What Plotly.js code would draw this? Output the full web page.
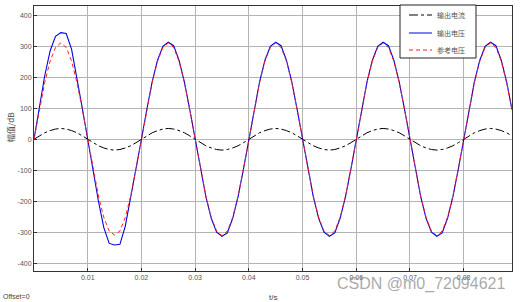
<!DOCTYPE html>
<html><head><meta charset="utf-8">
<script src="https://cdn.plot.ly/plotly-3.0.1.min.js"></script>
<style>html,body{margin:0;padding:0;background:#fff}#c{width:522px;height:302px}</style>
</head><body><div id="c"></div>
<script>
var t = [0,0.001,0.002,0.003,0.004,0.005,0.006,0.007,0.008,0.009,
0.010,0.011,0.012,0.013,0.014,0.015,0.016,0.017,0.018,0.019,
0.020,0.021,0.022,0.023,0.024,0.025,0.026,0.027,0.028,0.029,
0.030,0.031,0.032,0.033,0.034,0.035,0.036,0.037,0.038,0.039,
0.040,0.041,0.042,0.043,0.044,0.045,0.046,0.047,0.048,0.049,
0.050,0.051,0.052,0.053,0.054,0.055,0.056,0.057,0.058,0.059,
0.060,0.061,0.062,0.063,0.064,0.065,0.066,0.067,0.068,0.069,
0.070,0.071,0.072,0.073,0.074,0.075,0.076,0.077,0.078,0.079,
0.080,0.081,0.082,0.083,0.084,0.085,0.086,0.087,0.088,0.089];
var outCurrent = [0,11,21,28,33,35,33,28,21,11,
0,-11,-21,-28,-33,-35,-33,-28,-21,-11,
0,11,21,28,33,35,33,28,21,11,
0,-11,-21,-28,-33,-35,-33,-28,-21,-11,
0,11,21,28,33,35,33,28,21,11,
0,-11,-21,-28,-33,-35,-33,-28,-21,-11,
0,11,21,28,33,35,33,28,21,11,
0,-11,-21,-28,-33,-35,-33,-28,-21,-11,
0,11,21,28,33,35,33,28,21,11];
var outVoltage = [0,105,205,285,332,344,341,290,200,100,
0,-100,-200,-285,-336,-341,-339,-280,-190,-95,
0,96,185,255,300,313,302,255,185,96,
0,-96,-185,-255,-300,-313,-302,-255,-185,-96,
0,96,185,255,300,313,302,255,185,96,
0,-96,-185,-255,-300,-313,-302,-255,-185,-96,
0,96,185,255,300,313,302,255,185,96,
0,-96,-185,-255,-300,-313,-302,-255,-185,-96,
0,96,185,255,300,313,302,255,185,96];
var refVoltage = [0,96,183,252,296,311,296,252,183,96,
0,-96,-183,-252,-296,-309,-296,-252,-183,-96,
0,96,183,252,296,311,296,252,183,96,
0,-96,-183,-252,-296,-311,-296,-252,-183,-96,
0,96,183,252,296,311,296,252,183,96,
0,-96,-183,-252,-296,-311,-296,-252,-183,-96,
0,96,183,252,296,311,296,252,183,96,
0,-96,-183,-252,-296,-311,-296,-252,-183,-96,
0,96,183,252,296,311,296,252,183,96];
var names = ['输出电流','输出电压','参考电压'];
var xTicks = [0.01,0.02,0.03,0.04,0.05,0.06,0.07,0.08];
var yTicks = [-400,-300,-200,-100,0,100,200,300,400];

var colors = ['#000000','#0000e0','#ff2020'];
var dashes = ['dashdot','solid','4px,3px'];
var traces = [
 {x:t, y:outCurrent, name:names[0], mode:'lines', line:{color:colors[0], width:1, dash:dashes[0]}},
 {x:t, y:outVoltage, name:names[1], mode:'lines', line:{color:colors[1], width:1.1, dash:dashes[1]}},
 {x:t, y:refVoltage, name:names[2], mode:'lines', line:{color:colors[2], width:1, dash:dashes[2]}}
];
// pixel -> paper helpers for the hand-built legend box
var PL=34, PW=478, PT=6, PH=265;
function px(v){return (v-PL)/PW;}
function py(v){return (PT+PH-v)/PH;}
var shapes = [{type:'rect', xref:'paper', yref:'paper', x0:px(400), x1:px(476), y0:py(58), y1:py(5),
  fillcolor:'#fff', line:{color:'#222', width:1}, layer:'above'}];
var legendY = [15, 33, 50];
var annotations = [];
names.forEach(function(n,i){
  shapes.push({type:'line', xref:'paper', yref:'paper', x0:px(409), x1:px(432), y0:py(legendY[i]), y1:py(legendY[i]),
    line:{color:colors[i], width:1, dash:dashes[i]}, layer:'above'});
  annotations.push({text:n, xref:'paper', yref:'paper', x:px(435), y:py(legendY[i]), xanchor:'left', yanchor:'middle',
    showarrow:false, font:{family:'Noto Sans CJK SC', size:7, color:'#555'}});
});
annotations.push(
    {text:'幅值/dB', xref:'paper', yref:'paper', x:-0.048, y:0.54, xanchor:'center', yanchor:'middle', textangle:-90, showarrow:false,
     font:{family:'Noto Sans CJK SC', size:8, color:'#444'}},
    {text:'t/s', xref:'paper', yref:'paper', x:0.5, y:-0.075, xanchor:'center', yanchor:'top', showarrow:false,
     font:{family:'Liberation Sans, Arial', size:8, color:'#444'}},
    {text:'Offset=0', xref:'paper', yref:'paper', x:-0.069, y:-0.075, xanchor:'left', yanchor:'top', showarrow:false,
     font:{family:'Liberation Sans, Arial', size:7, color:'#444'}},
    {text:'CSDN @m0_72094621', xref:'paper', yref:'paper', x:0.99, y:-0.05, xanchor:'right', yanchor:'middle', showarrow:false,
     font:{family:'Liberation Sans, Arial', size:16, color:'rgba(140,140,140,0.75)'}}
);
var axCommon = {showline:true, mirror:true, linecolor:'#333', linewidth:1, showgrid:true, gridcolor:'#b4b4b4', gridwidth:1,
  zeroline:false, ticks:'inside', ticklen:3, tickcolor:'#333', tickfont:{family:'Liberation Sans, Arial', size:7, color:'#555'}};
var layout = {
  width:522, height:302, margin:{l:PL, r:522-PL-PW, t:PT, b:302-PT-PH},
  paper_bgcolor:'#fff', plot_bgcolor:'#fff',
  xaxis: Object.assign({}, axCommon, {range:[0,0.089], tickvals:xTicks, ticktext:xTicks.map(String)}),
  yaxis: Object.assign({}, axCommon, {range:[-425,430], tickvals:yTicks, ticktext:yTicks.map(String)}),
  showlegend:false,
  shapes:shapes,
  annotations:annotations
};
Plotly.newPlot('c', traces, layout, {displayModeBar:false, staticPlot:true});
</script></body></html>
